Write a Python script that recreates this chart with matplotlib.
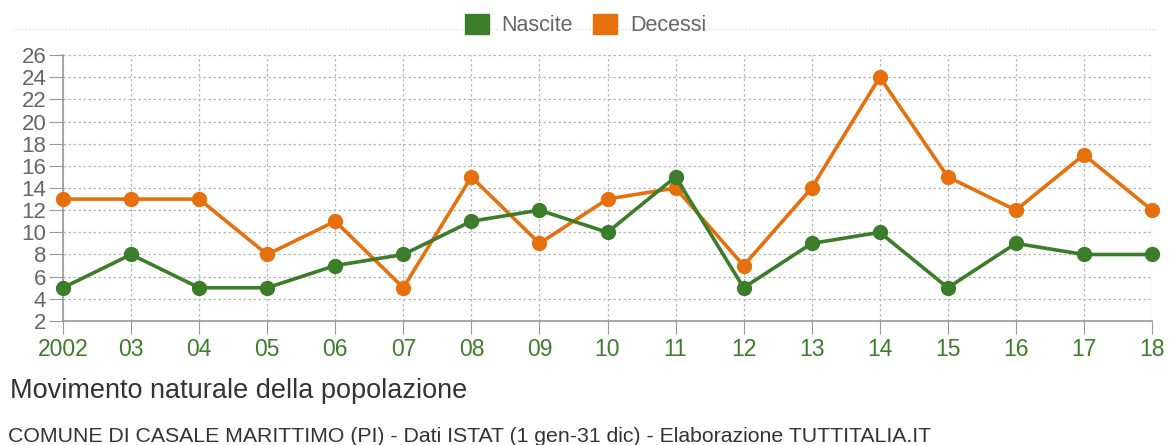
from matplotlib import pyplot as plt
from matplotlib.patches import Patch

years = list(range(2002, 2019))
year_labels = ['2002', '03', '04', '05', '06', '07', '08', '09', '10',
               '11', '12', '13', '14', '15', '16', '17', '18']
nascite = [5, 8, 5, 5, 7, 8, 11, 12, 10, 15, 5, 9, 10, 5, 9, 8, 8]
decessi = [13, 13, 13, 8, 11, 5, 15, 9, 13, 14, 7, 14, 24, 15, 12, 17, 12]

green = '#3b7d2a'
orange = '#e6700d'
gray = '#666666'

plt.rcParams['font.family'] = ['Liberation Sans', 'DejaVu Sans']

fig = plt.figure(figsize=(11.7, 4.45), dpi=100)
ax = fig.add_axes([63 / 1170, 1 - 321 / 445, (1152 - 63) / 1170, (321 - 55) / 445])

ax.plot(years, decessi, color=orange, lw=2.6, marker='o', ms=10, clip_on=False, zorder=3)
ax.plot(years, nascite, color=green, lw=2.6, marker='o', ms=10, clip_on=False, zorder=4)

ax.set_xlim(2002, 2018)
ax.set_ylim(2, 26)
ax.set_xticks(years)
ax.set_xticklabels(year_labels)
ax.set_yticks(range(2, 27, 2))

ax.grid(True, color='#b5b5b5', linestyle=(0, (2, 2)), lw=0.9)
ax.set_axisbelow(True)
for side in ['top', 'right']:
    ax.spines[side].set_visible(False)
for side in ['left', 'bottom']:
    ax.spines[side].set_color('#999999')
    ax.spines[side].set_linewidth(1.2)

ax.tick_params(axis='x', colors='#999999', labelcolor=green, labelsize=16.5, length=9, pad=3)
ax.tick_params(axis='y', colors='#999999', labelcolor=gray, labelsize=16, length=10, pad=2)

# dotted line above plot area
fig.add_artist(plt.Line2D([12 / 1170, 1158 / 1170], [1 - 29 / 445, 1 - 29 / 445],
                          color='#d5d5d5', lw=0.8, linestyle=(0, (1, 2))))

handles = [Patch(color=green, label='Nascite'), Patch(color=orange, label='Decessi')]
fig.legend(handles=handles, loc='center', bbox_to_anchor=(0.5005, 1 - 25 / 445), ncol=2,
           frameon=False, fontsize=15.5, handlelength=1.1, handleheight=1.1,
           handletextpad=0.6, columnspacing=0.95, labelcolor=gray)

fig.text(10 / 1170, 1 - 391 / 445, 'Movimento naturale della popolazione',
         fontsize=19.5, color='#333333', va='center')
fig.text(8 / 1170, 1 - 436 / 445,
         'COMUNE DI CASALE MARITTIMO (PI) - Dati ISTAT (1 gen-31 dic) - Elaborazione TUTTITALIA.IT',
         fontsize=15.3, color='#333333', va='center')

fig.savefig('out.png', dpi=100)
